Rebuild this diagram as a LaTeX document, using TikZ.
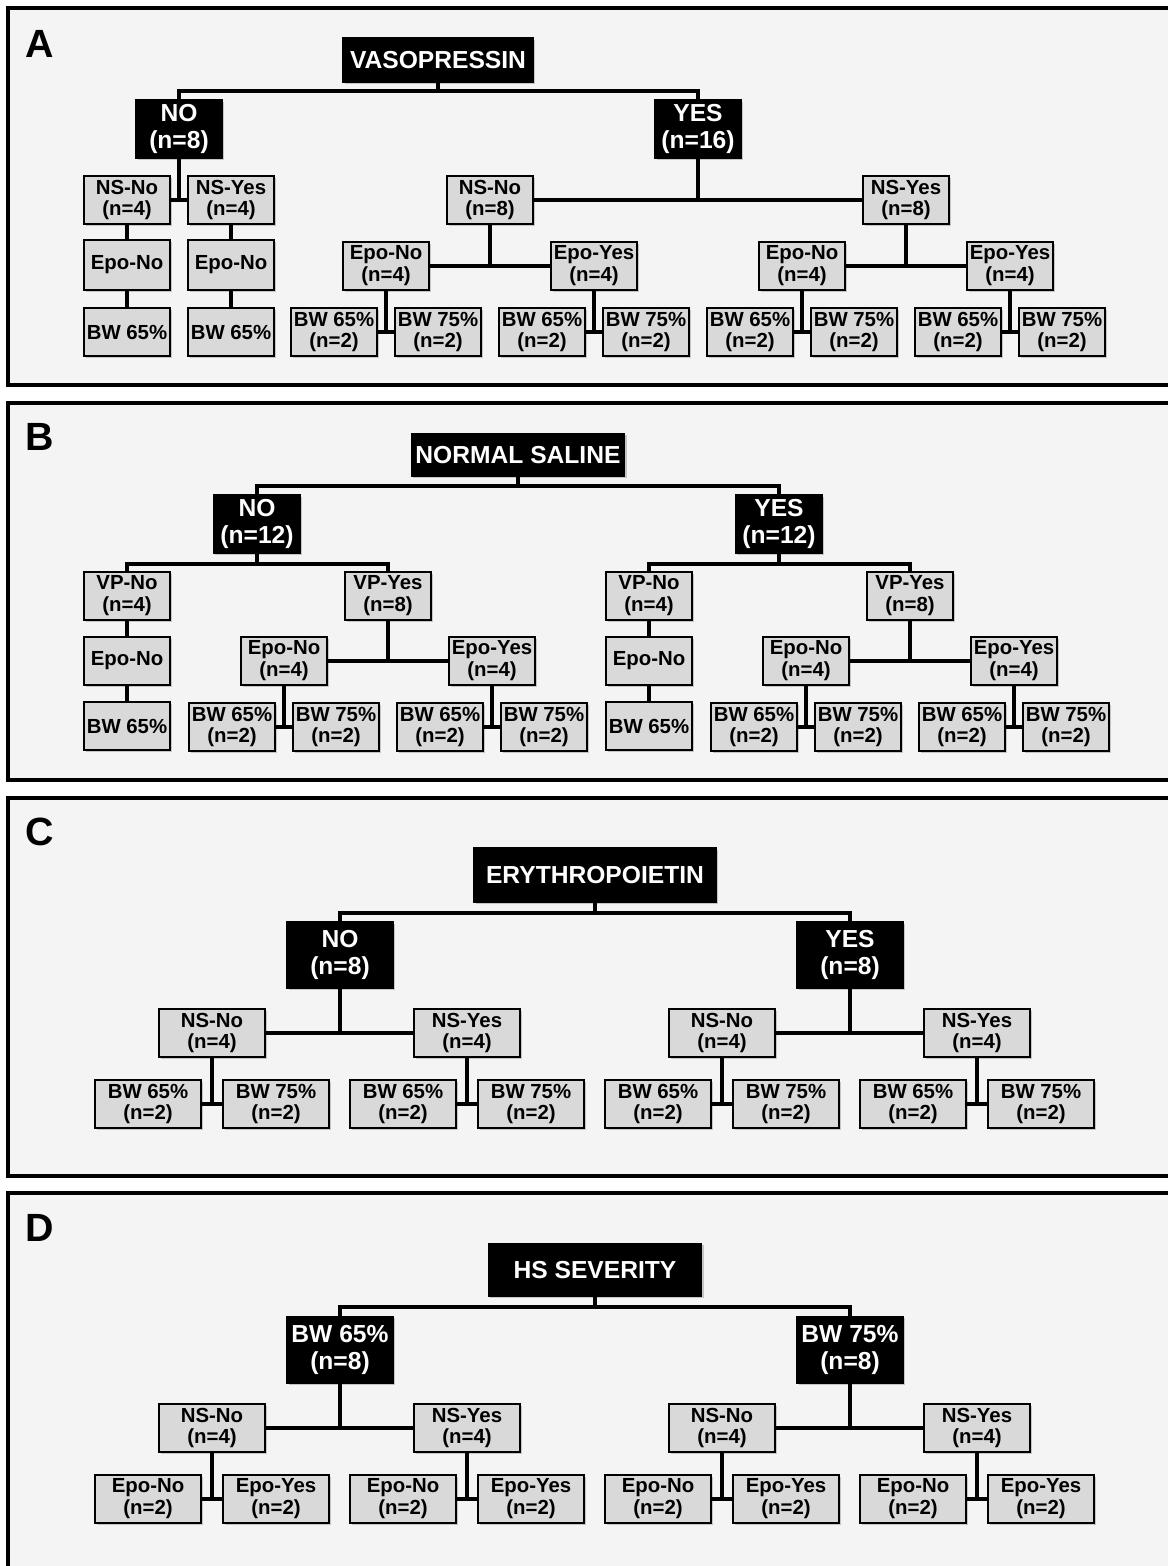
\documentclass[tikz,border=0pt]{standalone}
\usepackage{fontspec}
\setmainfont{Liberation Sans}
\usetikzlibrary{shadows}

\definecolor{panelgray}{HTML}{F4F4F4}
\definecolor{boxgray}{HTML}{D9D9D9}

\tikzset{
  panel/.style={draw=black, line width=2.6pt, fill=panelgray},
  tag/.style={font=\fontsize{28}{30}\selectfont\bfseries},
  head/.style={fill=black, draw=black, line width=1pt, text=white, align=center,
    inner sep=0pt, font=\fontsize{17.5}{18.6}\selectfont\bfseries,
    drop shadow={shadow xshift=1.4pt, shadow yshift=-1.4pt, opacity=0.4}},
  grp/.style={fill=boxgray, draw=black, line width=1.4pt, align=center,
    inner sep=0pt, minimum width=2.15cm, minimum height=1.2cm,
    font=\fontsize{14.5}{15.6}\selectfont\bfseries,
    drop shadow={shadow xshift=1.4pt, shadow yshift=-1.4pt, opacity=0.4}},
  link/.style={line width=2.8pt}
}

\begin{document}
\begin{tikzpicture}[x=0.025cm, y=-0.025cm]
\useasboundingbox[fill=white] (0,0) rectangle (1168,1566);

% panels
\draw[panel] (8,8) rectangle (1190,385);
\draw[panel] (8,403) rectangle (1190,780);
\draw[panel] (8,798) rectangle (1190,1176);
\draw[panel] (8,1193) rectangle (1190,1590);
\node[tag] (LA) at (40,44) {A};
\node[tag] (LB) at (40,437) {B};
\node[tag] (LC) at (40,832) {C};
\node[tag] (LD) at (40,1228) {D};

% A: vasopressin
\node[head, minimum width=4.75cm, minimum height=1.1cm] (AR) at (438,60) {VASOPRESSIN};
\node[head, minimum width=2.15cm, minimum height=1.45cm] (AN) at (179,129) {NO\\(n=8)};
\node[head, minimum width=2.15cm, minimum height=1.45cm] (AY) at (698,129) {YES\\(n=16)};
\draw[link] (AR.south) -- ++(0,8) -| (AN.north);
\draw[link] (AR.south) -- ++(0,8) -| (AY.north);

\node[grp] (A1) at (127,200) {NS-No\\(n=4)};
\node[grp] (A2) at (231,200) {NS-Yes\\(n=4)};
\node[grp, minimum height=1.25cm] (A1e) at (127,265) {Epo-No};
\node[grp, minimum height=1.25cm] (A2e) at (231,265) {Epo-No};
\node[grp] (A1b) at (127,332) {BW 65\%};
\node[grp] (A2b) at (231,332) {BW 65\%};
\draw[link] (AN.south) -- (AN.south |- A1.east);
\draw[link] (A1.east) -- (A2.west);
\draw[link] (A1.south) -- (A1e.north);
\draw[link] (A2.south) -- (A2e.north);
\draw[link] (A1e.south) -- (A1b.north);
\draw[link] (A2e.south) -- (A2b.north);

\node[grp] (A3) at (490,200) {NS-No\\(n=8)};
\node[grp] (A4) at (906,200) {NS-Yes\\(n=8)};
\draw[link] (AY.south) -- (AY.south |- A3.east);
\draw[link] (A3.east) -- (A4.west);
\node[grp] (A3a) at (386,266) {Epo-No\\(n=4)};
\node[grp] (A3b) at (594,266) {Epo-Yes\\(n=4)};
\node[grp] (A4a) at (802,266) {Epo-No\\(n=4)};
\node[grp] (A4b) at (1010,266) {Epo-Yes\\(n=4)};
\draw[link] (A3.south) -- (A3.south |- A3a.east);
\draw[link] (A3a.east) -- (A3b.west);
\draw[link] (A4.south) -- (A4.south |- A4a.east);
\draw[link] (A4a.east) -- (A4b.west);
\foreach \p/\x in {A3a/386, A3b/594, A4a/802, A4b/1010} {
  \node[grp] (\p1) at (\x-52,332) {BW 65\%\\(n=2)};
  \node[grp] (\p2) at (\x+52,332) {BW 75\%\\(n=2)};
  \draw[link] (\p.south) -- (\p.south |- \p1.east);
  \draw[link] (\p1.east) -- (\p2.west);
}

% B: normal saline
\node[head, minimum width=5.325cm, minimum height=1.075cm] (BR) at (518,455) {NORMAL SALINE};
\node[head, minimum width=2.175cm, minimum height=1.45cm] (BN) at (257,524) {NO\\(n=12)};
\node[head, minimum width=2.175cm, minimum height=1.45cm] (BY) at (779,524) {YES\\(n=12)};
\draw[link] (BR.south) -- ++(0,9) -| (BN.north);
\draw[link] (BR.south) -- ++(0,9) -| (BY.north);

\node[grp] (B1) at (127,596) {VP-No\\(n=4)};
\node[grp] (B2) at (388,596) {VP-Yes\\(n=8)};
\node[grp] (B3) at (649,596) {VP-No\\(n=4)};
\node[grp] (B4) at (910,596) {VP-Yes\\(n=8)};
\draw[link] (BN.south) -- ++(0,10) -| (B1.north);
\draw[link] (BN.south) -- ++(0,10) -| (B2.north);
\draw[link] (BY.south) -- ++(0,10) -| (B3.north);
\draw[link] (BY.south) -- ++(0,10) -| (B4.north);

\node[grp] (B1e) at (127,661) {Epo-No};
\node[grp] (B1b) at (127,726) {BW 65\%};
\node[grp] (B3e) at (649,661) {Epo-No};
\node[grp] (B3b) at (649,726) {BW 65\%};
\draw[link] (B1.south) -- (B1e.north);
\draw[link] (B1e.south) -- (B1b.north);
\draw[link] (B3.south) -- (B3e.north);
\draw[link] (B3e.south) -- (B3b.north);

\node[grp] (B2a) at (284,661) {Epo-No\\(n=4)};
\node[grp] (B2b) at (492,661) {Epo-Yes\\(n=4)};
\node[grp] (B4a) at (806,661) {Epo-No\\(n=4)};
\node[grp] (B4b) at (1014,661) {Epo-Yes\\(n=4)};
\draw[link] (B2.south) -- (B2.south |- B2a.east);
\draw[link] (B2a.east) -- (B2b.west);
\draw[link] (B4.south) -- (B4.south |- B4a.east);
\draw[link] (B4a.east) -- (B4b.west);
\foreach \p/\x in {B2a/284, B2b/492, B4a/806, B4b/1014} {
  \node[grp] (\p1) at (\x-52,727) {BW 65\%\\(n=2)};
  \node[grp] (\p2) at (\x+52,727) {BW 75\%\\(n=2)};
  \draw[link] (\p.south) -- (\p.south |- \p1.east);
  \draw[link] (\p1.east) -- (\p2.west);
}

% C: erythropoietin
\node[head, minimum width=6.05cm, minimum height=1.35cm] (CR) at (595,875) {ERYTHROPOIETIN};
\node[head, minimum width=2.65cm, minimum height=1.65cm] (CN) at (340,955) {NO\\(n=8)};
\node[head, minimum width=2.65cm, minimum height=1.65cm] (CY) at (850,955) {YES\\(n=8)};
\draw[link] (CR.south) -- ++(0,10) -| (CN.north);
\draw[link] (CR.south) -- ++(0,10) -| (CY.north);

\node[grp, minimum width=2.65cm] (C1) at (212,1033) {NS-No\\(n=4)};
\node[grp, minimum width=2.65cm] (C2) at (467,1033) {NS-Yes\\(n=4)};
\node[grp, minimum width=2.65cm] (C3) at (722,1033) {NS-No\\(n=4)};
\node[grp, minimum width=2.65cm] (C4) at (977,1033) {NS-Yes\\(n=4)};
\draw[link] (CN.south) -- (CN.south |- C1.east);
\draw[link] (C1.east) -- (C2.west);
\draw[link] (CY.south) -- (CY.south |- C3.east);
\draw[link] (C3.east) -- (C4.west);
\foreach \p/\x in {C1/212, C2/467, C3/722, C4/977} {
  \node[grp, minimum width=2.65cm] (\p1) at (\x-64,1104) {BW 65\%\\(n=2)};
  \node[grp, minimum width=2.65cm] (\p2) at (\x+64,1104) {BW 75\%\\(n=2)};
  \draw[link] (\p.south) -- (\p.south |- \p1.east);
  \draw[link] (\p1.east) -- (\p2.west);
}

% D: hs severity
\node[head, minimum width=5.325cm, minimum height=1.325cm] (DR) at (595,1270) {HS SEVERITY};
\node[head, minimum width=2.65cm, minimum height=1.675cm] (DN) at (340,1350) {BW 65\%\\(n=8)};
\node[head, minimum width=2.65cm, minimum height=1.675cm] (DY) at (850,1350) {BW 75\%\\(n=8)};
\draw[link] (DR.south) -- ++(0,10) -| (DN.north);
\draw[link] (DR.south) -- ++(0,10) -| (DY.north);

\node[grp, minimum width=2.65cm] (D1) at (212,1428) {NS-No\\(n=4)};
\node[grp, minimum width=2.65cm] (D2) at (467,1428) {NS-Yes\\(n=4)};
\node[grp, minimum width=2.65cm] (D3) at (722,1428) {NS-No\\(n=4)};
\node[grp, minimum width=2.65cm] (D4) at (977,1428) {NS-Yes\\(n=4)};
\draw[link] (DN.south) -- (DN.south |- D1.east);
\draw[link] (D1.east) -- (D2.west);
\draw[link] (DY.south) -- (DY.south |- D3.east);
\draw[link] (D3.east) -- (D4.west);
\foreach \p/\x in {D1/212, D2/467, D3/722, D4/977} {
  \node[grp, minimum width=2.65cm] (\p1) at (\x-64,1499) {Epo-No\\(n=2)};
  \node[grp, minimum width=2.65cm] (\p2) at (\x+64,1499) {Epo-Yes\\(n=2)};
  \draw[link] (\p.south) -- (\p.south |- \p1.east);
  \draw[link] (\p1.east) -- (\p2.west);
}
\end{tikzpicture}
\end{document}
